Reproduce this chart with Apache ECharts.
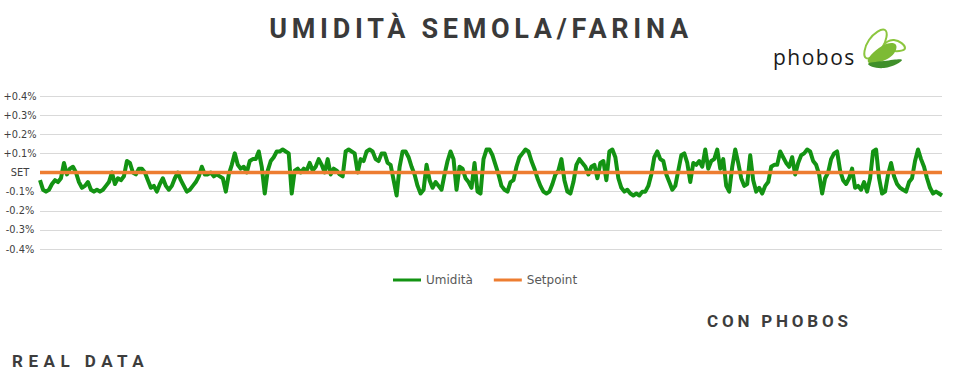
<!DOCTYPE html>
<html><head><meta charset="utf-8">
<script src="https://cdn.jsdelivr.net/npm/echarts@6/dist/echarts.min.js"></script>
<style>html,body{margin:0;padding:0;background:#fff}#c{width:956px;height:380px}</style>
</head><body><div id="c"></div>
<script>
// Umidità deviation from setpoint (%), read left to right
const humidity = [
-0.04,-0.09,-0.10,-0.09,-0.06,-0.04,-0.05,-0.03,0.05,-0.01,
0.02,0.03,0.00,-0.05,-0.08,-0.07,-0.05,-0.09,-0.10,-0.09,
-0.10,-0.09,-0.07,-0.05,0.00,-0.06,-0.03,-0.04,-0.02,0.06,
0.05,0.00,-0.01,0.02,0.02,0.00,-0.04,-0.08,-0.07,-0.10,
-0.06,-0.03,-0.07,-0.09,-0.07,-0.03,0.00,-0.04,-0.07,-0.10,
-0.09,-0.07,-0.05,-0.02,0.03,-0.01,-0.01,0.00,-0.02,-0.01,
-0.02,-0.03,-0.10,-0.01,0.04,0.10,
0.04,0.02,0.03,0.00,0.06,0.07,0.07,0.11,0.03,-0.11,
0.01,0.06,0.08,0.11,0.11,0.12,0.11,0.10,-0.11,0.01,
0.02,0.00,0.02,0.01,0.05,0.01,0.03,0.07,0.04,0.00,
0.07,-0.01,0.02,0.01,-0.01,-0.02,0.11,0.12,0.11,0.10,
0.00,0.07,0.06,0.11,0.12,0.11,0.07,0.06,0.10,0.10,
0.05,0.04,-0.04,-0.12,0.03,0.11,0.11,0.08,0.03,-0.01,
-0.07,-0.11,-0.09,0.04,-0.04,-0.08,-0.05,-0.07,-0.09,-0.01,
0.06,0.11,0.07,-0.09,0.03,0.02,-0.03,
-0.05,-0.08,0.05,-0.10,-0.11,0.07,0.12,0.12,0.09,0.04,
-0.01,-0.07,-0.09,-0.10,-0.05,-0.04,0.03,0.08,0.10,0.12,
0.11,0.06,0.02,-0.03,-0.07,-0.10,-0.11,-0.10,-0.06,-0.01,
0.01,0.07,-0.04,-0.10,-0.11,-0.05,0.04,0.07,0.05,0.03,
-0.01,0.03,0.04,-0.03,0.05,0.06,-0.04,0.11,0.12,0.08,
-0.03,-0.08,-0.10,-0.09,-0.11,-0.12,-0.11,-0.12,-0.10,-0.10,
-0.07,-0.01,0.08,0.11,0.07,0.06,-0.01,-0.05,-0.09,-0.07,
0.01,0.09,0.10,0.05,-0.05,0.05,0.04,
0.06,0.03,0.12,0.02,0.06,0.07,0.12,0.02,0.07,-0.07,
-0.10,0.03,0.12,0.05,-0.03,-0.07,-0.06,0.09,-0.04,-0.10,
-0.08,-0.11,-0.07,-0.05,0.03,0.04,0.04,0.11,0.08,0.05,
0.03,0.08,-0.01,0.05,0.09,0.10,0.12,0.11,0.06,0.04,
-0.01,-0.11,-0.03,0.00,0.07,0.10,0.11,0.01,-0.04,-0.06,
-0.03,0.02,-0.08,-0.07,-0.09,-0.05,-0.10,-0.03,0.11,0.12,
-0.03,-0.11,-0.10,-0.01,0.05,-0.02,-0.06,-0.08,-0.09,-0.10,
-0.05,-0.03,0.06,0.12,0.07,0.03,-0.03,-0.08,-0.11,-0.10,
-0.11,-0.12
];
const setpoint = 0;
const yTickLabels = ['-0.4%','-0.3%','-0.2%','-0.1%','SET','+0.1%','+0.2%','+0.3%','+0.4%'];
const seriesNames = ['Umidità','Setpoint'];
const titleText = 'UMIDITÀ SEMOLA/FARINA';
const subText = 'CON PHOBOS';
const footText = 'REAL DATA';
const logoText = 'phobos';

const chart = echarts.init(document.getElementById('c'), null, {renderer:'svg', width:956, height:380});
chart.setOption({
  animation:false,
  backgroundColor:'#fff',
  grid:{left:40,right:14,top:96,bottom:131},
  xAxis:{type:'value',min:0,max:humidity.length-1,show:false},
  yAxis:{type:'value',min:-0.4,max:0.4,interval:0.1,
    axisLine:{show:false},axisTick:{show:false},
    splitLine:{lineStyle:{color:'#d9d9d9',width:1}},
    axisLabel:{formatter:v=>yTickLabels[Math.round(v*10)+4],align:'center',margin:20,
      color:'#404040',fontFamily:'DejaVu Sans',fontSize:9.8}},
  legend:{left:393,top:274,padding:0,itemWidth:28,itemHeight:3,itemGap:21,icon:'rect',
    data:seriesNames,textStyle:{color:'#595959',fontFamily:'DejaVu Sans',fontSize:12}},
  series:[
    {name:seriesNames[0],type:'line',data:humidity.map((v,i)=>[i,v]),symbol:'none',
      lineStyle:{color:'#139313',width:4,join:'round'},itemStyle:{color:'#139313'},z:2},
    {name:seriesNames[1],type:'line',data:[[0,setpoint],[humidity.length-1,setpoint]],symbol:'none',
      lineStyle:{color:'#ED7D31',width:3.5},itemStyle:{color:'#ED7D31'},z:3}
  ],
  graphic:[
    {type:'text',x:481,y:29,style:{text:titleText,font:'bold 27px Roboto',fill:'#3a3a3a',align:'center',verticalAlign:'middle'}},
    {type:'text',x:707,y:320.5,style:{text:subText,font:'bold 17px Roboto',fill:'#3d3d3d',align:'left',verticalAlign:'middle'}},
    {type:'text',x:12,y:361,style:{text:footText,font:'bold 17px Roboto',fill:'#3d3d3d',align:'left',verticalAlign:'middle'}},
    {type:'text',x:773,y:57,style:{text:logoText,font:'21px "Open Sans"',fill:'#1a1a1a',align:'left',verticalAlign:'middle'}},
    {type:'polygon',shape:{points:[[866,58],[869,40],[885,30],[882,48]],smooth:0.5},style:{fill:'none',stroke:'#8cc63f',lineWidth:2}},
    {type:'polygon',shape:{points:[[884,46],[894,40],[905,48],[894,51]],smooth:0.5},style:{fill:'none',stroke:'#8cc63f',lineWidth:2}},
    {type:'polygon',shape:{points:[[868,62],[882,46],[896,45],[889,58]],smooth:0.5},style:{fill:'#7dbb35'}},
    {type:'polygon',shape:{points:[[868,64],[884,68],[902,60],[884,61]],smooth:0.5},style:{fill:'#3f8f2a'}}
  ]
});
const spacing = {};
spacing[titleText]=4.7; spacing[subText]=3.8; spacing[footText]=5.5; spacing[logoText]=1.5;
document.querySelectorAll('#c text').forEach(t=>{const s=spacing[t.textContent]; if(s!=null) t.style.letterSpacing=s+'px';});
</script></body></html>
